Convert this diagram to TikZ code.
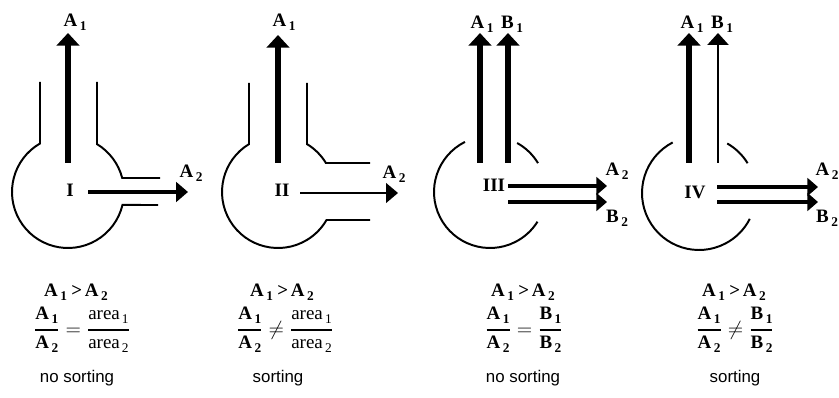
\documentclass[tikz,border=0pt]{standalone}
\usepackage{fontspec}
\usepackage{amsmath}
\setmainfont{Liberation Serif}
\setsansfont{Liberation Sans}
\usetikzlibrary{arrows.meta}
\newcommand\sbs[1]{\raisebox{-0.45ex}{\fontsize{9.5}{9.5}\selectfont #1}}
\newcommand\lab[2]{#1\kern1.8pt\sbs{#2}}
\newcommand\arealab[1]{\mdseries area\kern1.5pt\sbs{#1}}
\newcommand\myfrac[2]{\genfrac{}{}{1.3pt}{0}{\text{#1}}{\text{#2}}}
\begin{document}
\begin{tikzpicture}[x=0.025cm,y=0.025cm,
  flask/.style={line width=1.4pt},
  heavy/.style={line width=4.5pt,-{Triangle[width=16pt,length=9pt]}},
  medium/.style={line width=2.8pt,-{Triangle[width=14pt,length=8.5pt]}},
  slim/.style={line width=1.5pt,-{Triangle[width=14pt,length=8.5pt]}},
  slimv/.style={line width=1.5pt,-{Triangle[width=15pt,length=8.5pt]}},
  pair/.style={line width=2.8pt,-{Triangle[width=12.5pt,length=7.5pt]}},
  lbl/.style={font=\bfseries\fontsize{13.5}{15}\selectfont, inner sep=0pt},
  note/.style={font=\sffamily\fontsize{12}{14}\selectfont, inner sep=0pt}]
\useasboundingbox (0,0) rectangle (839,-398);

% ---------- Panel I ----------
\draw[flask] (40,-82) -- (40,-143.5) arc[start angle=120, end angle=346.6, radius=56] -- (158,-205);
\draw[flask] (160,-178) -- (122.2,-178) arc[start angle=14.5, end angle=58.8, radius=56] -- (97,-82);
\coordinate (I-s1) at (68,-163); \coordinate (I-t1) at (68,-33);
\coordinate (I-s2) at (88,-192); \coordinate (I-t2) at (188,-192);
\draw[heavy] (I-s1) -- (I-t1);
\draw[medium] (I-s2) -- (I-t2);
\node[lbl] (I-A1) at (75,-22) {\lab{A}{1}};
\node[lbl] (I-A2) at (191,-173) {\lab{A}{2}};
\node[lbl] (I-n) at (70,-190) {I};
\node[lbl] (I-r1) at (76,-292) {\lab{A}{1}\kern3pt>\kern2pt\lab{A}{2}};
\node[lbl] (I-r2) at (82,-330) {$\myfrac{\lab{A}{1}}{\lab{A}{2}}=\myfrac{\arealab{1}}{\arealab{2}}$};
\node[note] (I-r3) at (77,-378) {no sorting};

% ---------- Panel II ----------
\draw[flask] (249,-83) -- (249,-144.1) arc[start angle=121.2, end angle=330, radius=56] -- (370,-220);
\draw[flask] (370,-163) -- (325.9,-163) arc[start angle=31.2, end angle=58.8, radius=56] -- (307,-83);
\coordinate (II-s1) at (278,-163); \coordinate (II-t1) at (278,-35);
\coordinate (II-s2) at (300,-193); \coordinate (II-t2) at (398,-193);
\draw[heavy] (II-s1) -- (II-t1);
\draw[slim] (II-s2) -- (II-t2);
\node[lbl] (II-A1) at (284,-22) {\lab{A}{1}};
\node[lbl] (II-A2) at (394,-174) {\lab{A}{2}};
\node[lbl] (II-n) at (282,-190) {II};
\node[lbl] (II-r1) at (282,-292) {\lab{A}{1}\kern3pt>\kern2pt\lab{A}{2}};
\node[lbl] (II-r2) at (285,-330) {$\myfrac{\lab{A}{1}}{\lab{A}{2}}\neq\myfrac{\arealab{1}}{\arealab{2}}$};
\node[note] (II-r3) at (278,-378) {sorting};

% ---------- Panel III ----------
\coordinate (III-c) at (490,-192);
\draw[flask] (III-c) ++(116.6:56) arc[start angle=116.6, end angle=328, radius=56];
\draw[flask] (III-c) ++(31:56) arc[start angle=31, end angle=61, radius=56];
\coordinate (III-sa1) at (480,-163); \coordinate (III-ta1) at (480,-33);
\coordinate (III-sb1) at (508,-163); \coordinate (III-tb1) at (508,-33);
\coordinate (III-sa2) at (508,-186); \coordinate (III-ta2) at (607,-186);
\coordinate (III-sb2) at (508,-202); \coordinate (III-tb2) at (607,-202);
\draw[heavy] (III-sa1) -- (III-ta1);
\draw[heavy] (III-sb1) -- (III-tb1);
\draw[pair] (III-sa2) -- (III-ta2);
\draw[pair] (III-sb2) -- (III-tb2);
\node[lbl] (III-A1) at (482,-24) {\lab{A}{1}};
\node[lbl] (III-B1) at (512,-24) {\lab{B}{1}};
\node[lbl] (III-A2) at (617,-171) {\lab{A}{2}};
\node[lbl] (III-B2) at (617,-218) {\lab{B}{2}};
\node[lbl] (III-n) at (494,-185) {III};
\node[lbl] (III-r1) at (523,-292) {\lab{A}{1}\kern3pt>\kern2pt\lab{A}{2}};
\node[lbl] (III-r2) at (524,-330) {$\myfrac{\lab{A}{1}}{\lab{A}{2}}=\myfrac{\lab{B}{1}}{\lab{B}{2}}$};
\node[note] (III-r3) at (523,-378) {no sorting};

% ---------- Panel IV ----------
\coordinate (IV-c) at (699,-193);
\draw[flask] (IV-c) ++(117.5:57) arc[start angle=117.5, end angle=333, radius=57];
\draw[flask] (IV-c) ++(31.5:57) arc[start angle=31.5, end angle=60.3, radius=57];
\coordinate (IV-sa1) at (689,-163); \coordinate (IV-ta1) at (689,-33);
\coordinate (IV-sb1) at (718,-163); \coordinate (IV-tb1) at (718,-33);
\coordinate (IV-sa2) at (717,-187); \coordinate (IV-ta2) at (818,-187);
\coordinate (IV-sb2) at (717,-202); \coordinate (IV-tb2) at (818,-202);
\draw[heavy] (IV-sa1) -- (IV-ta1);
\draw[slimv] (IV-sb1) -- (IV-tb1);
\draw[pair] (IV-sa2) -- (IV-ta2);
\draw[pair] (IV-sb2) -- (IV-tb2);
\node[lbl] (IV-A1) at (692,-24) {\lab{A}{1}};
\node[lbl] (IV-B1) at (722,-24) {\lab{B}{1}};
\node[lbl] (IV-A2) at (827,-171) {\lab{A}{2}};
\node[lbl] (IV-B2) at (827,-218) {\lab{B}{2}};
\node[lbl] (IV-n) at (695,-192) {IV};
\node[lbl] (IV-r1) at (734,-292) {\lab{A}{1}\kern3pt>\kern2pt\lab{A}{2}};
\node[lbl] (IV-r2) at (735,-330) {$\myfrac{\lab{A}{1}}{\lab{A}{2}}\neq\myfrac{\lab{B}{1}}{\lab{B}{2}}$};
\node[note] (IV-r3) at (735,-378) {sorting};
\end{tikzpicture}
\end{document}
